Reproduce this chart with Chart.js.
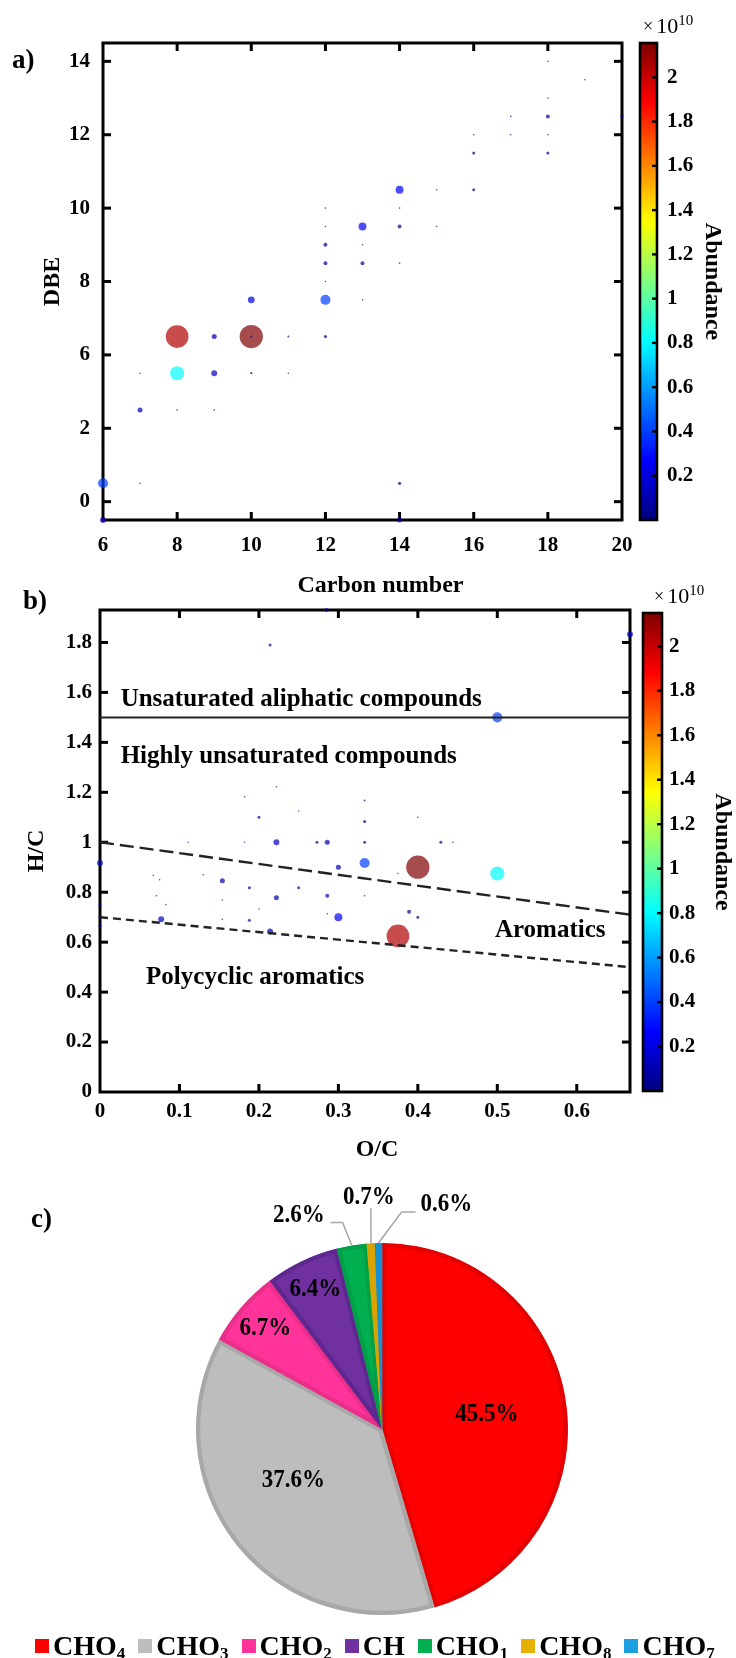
<!DOCTYPE html>
<html lang="en">
<head>
<meta charset="utf-8">
<title>DBE / van Krevelen / class distribution</title>
<script src="https://cdn.jsdelivr.net/npm/chart.js@4.4.1/dist/chart.umd.min.js"></script>
<style>
  html, body { margin: 0; padding: 0; background: #fff; }
  body { width: 736px; height: 1658px; position: relative; overflow: hidden;
         font-family: "Liberation Serif", "Times New Roman", serif; }
  canvas { position: absolute; }
  .tag { position: absolute; font-weight: bold; font-size: 27px; line-height: 30px; }
  #legendC { position: absolute; left: 35px; top: 1631px; display: flex; gap: 13px;
             font-weight: bold; font-size: 28px; line-height: 30px; white-space: nowrap; }
  #legendC .sq { display: inline-block; width: 14px; height: 14px; margin-right: 4px;
                 vertical-align: middle; position: relative; top: -3px; }
  #legendC sub { font-size: 17px; vertical-align: baseline; position: relative; top: 4px; }
</style>
</head>
<body>

<canvas id="chartA" width="660" height="600" style="left:0;top:0"></canvas>
<canvas id="cbarA" width="106" height="560" style="left:630px;top:0"></canvas>
<canvas id="chartB" width="660" height="620" style="left:0;top:560px"></canvas>
<canvas id="cbarB" width="106" height="560" style="left:633px;top:560px"></canvas>
<canvas id="pieC" width="736" height="488" style="left:0;top:1170px"></canvas>

<div class="tag" style="left:12px;top:44px">a)</div>
<div class="tag" style="left:23px;top:585px">b)</div>
<div class="tag" style="left:31px;top:1203px">c)</div>
<div id="legendC"></div>

<script>
// ---------------- data ----------------
// a) DBE vs carbon number (DBE given in axis units, see tick labels below)
var carbonA = [6,6,6,7,7,7,8,8,8,9,9,9,10,10,10,10,11,11,12,12,12,12,12,12,12,13,13,13,13,14,14,14,14,14,14,15,15,16,16,16,17,17,18,18,18,18,18,19,20];
var dbeA = [1.5,2.5,3.5, 2.5,4.5,5.5, 4.5,5.5,6.5, 4.5,5.5,6.5, 5.5,6.5,6.5,7.5, 5.5,6.5,
            6.5,7.5,8,8.5,9,9.5,10, 7.5,8.5,9,9.5, 1.5,2.5,8.5,9.5,10,10.5, 9.5,10.5,
            10.5,11.5,12, 12,12.5, 11.5,12,12.5,13,14, 13.5, 12.5];
var abundA = [0.14,0.40,0.01, 0.01,0.10,0.01, 0.01,0.80,2.05, 0.01,0.14,0.10, 0.02,2.15,0.02,0.19, 0.01,0.015,
              0.04,0.40,0.01,0.063,0.063,0.01,0.01, 0.01,0.063,0.01,0.25, 0.10,0.04,0.01,0.063,0.01,0.25, 0.01,0.01,
              0.036,0.036,0.01, 0.01,0.01, 0.036,0.01,0.063,0.01,0.01, 0.01, 0.036];
var xTicksA = [6,8,10,12,14,16,18,20];
var yTicksA = [2,4,6,8,10,12,14];
var yTickTextA = ['0','2','6','8','10','12','14'];

// b) van Krevelen
var ocB = [0.285,0.214,0.667,0.5,0.222,0.182,0.333,0.25,0.2,0.4,
           0.333,0.222,0.286,0.273,0.333,0.182,0.111,0.429,0.444,0,
           0.333,0.3,0.375,0.5,0.154,0.13,0.075,0.067,0.188,0.25,
           0.222,0.286,0.154,0.071,0.333,0,0.083,0.2,0.286,0.389,
           0.4,0.3,0.077,0,0,0.188,0.154,0.214,0.5,0.4,0.375];
var hcB = [1.93,1.79,1.833,1.5,1.222,1.182,1.167,1.125,1.1,1.1,
           1.083,1.0,1.0,1.0,1.0,1.0,1.0,1.0,1.0,0.917,
           0.917,0.9,0.875,0.875,0.846,0.87,0.85,0.867,0.818,0.818,
           0.778,0.786,0.769,0.786,0.786,0.75,0.75,0.733,0.714,0.722,
           0.7,0.7,0.692,0.7,0.667,0.688,0.692,0.643,0.625,0.9,0.625];
var abundB = [0.063,0.036,0.14,0.40,0.01,0.01,0.015,0.01,0.036,0.01,
              0.04,0.14,0.10,0.036,0.036,0.01,0.01,0.036,0.01,0.14,
              0.40,0.10,0.01,0.80,0.10,0.01,0.01,0.01,0.036,0.036,
              0.10,0.063,0.01,0.01,0.01,0.036,0.01,0.01,0.01,0.063,
              0.036,0.25,0.14,0.036,0.036,0.036,0.01,0.14,0.01,2.15,2.05];
var xTicksB = [0,0.1,0.2,0.3,0.4,0.5,0.6];
var yTicksB = [0,0.2,0.4,0.6,0.8,1,1.2,1.4,1.6,1.8];
// boundary lines (O/C -> H/C)
var ocLine = [0, 0.667];
var hcAliphatic = [1.5, 1.5];
var hcAromatic = [1.0, 0.71];
var hcCondensed = [0.7, 0.5];

// colorbar (x 10^10)
var cbTicks = [0.2,0.4,0.6,0.8,1,1.2,1.4,1.6,1.8,2];
var cbMaxA = 2.155;
var cbMaxB = 2.15;

// c) compound classes, %
var classLabels = ['CHO4','CHO3','CHO2','CH','CHO1','CHO8','CHO7'];
var classShare = [45.5, 37.6, 6.7, 6.4, 2.6, 0.7, 0.6];

// ---------------- styles ----------------
var SERIF = '"Liberation Serif", "Times New Roman", serif';
var tickFont = { family: SERIF, size: 21, weight: 'bold' };
var titleFont = { family: SERIF, size: 24, weight: 'bold' };
var pieFill = ['#ff0000','#bdbdbd','#ff3399','#7030a0','#00b050','#e6b000','#1ba1e2'];
var pieEdge = ['#e40000','#a8a8a8','#ea2f8a','#5e2890','#00a048','#d9a400','#1590d0'];
var EN = '\u2002';

function jet(t) {
  var c = function (v) { return Math.round(255 * Math.min(1, Math.max(0, v))); };
  return [c(1.5 - Math.abs(4 * t - 3)), c(1.5 - Math.abs(4 * t - 2)), c(1.5 - Math.abs(4 * t - 1))];
}
function fmt(v) { return String(+v.toFixed(1)); }

// frame + inward ticks (matlab look)
function framePlugin(o) {
  function draw(chart) {
    var ctx = chart.ctx, a = chart.chartArea, s = chart.scales;
    var L = o.len, w = o.tw;
    ctx.save();
    ctx.fillStyle = '#000';
    if (o.xTicks) s.x.ticks.forEach(function (t) {
      var p = s.x.getPixelForValue(t.value);
      if (p < a.left + 2 || p > a.right - 2) return;
      ctx.fillRect(p - w / 2, a.bottom - L, w, L);
      ctx.fillRect(p - w / 2, a.top, w, L);
    });
    s.y.ticks.forEach(function (t) {
      var p = s.y.getPixelForValue(t.value);
      if (p < a.top + 2 || p > a.bottom - 2) return;
      if (o.yLeft) ctx.fillRect(a.left, p - w / 2, L, w);
      ctx.fillRect(a.right - L, p - w / 2, L, w);
    });
    ctx.strokeStyle = '#000';
    ctx.lineWidth = o.width;
    ctx.strokeRect(a.left, a.top, a.right - a.left, a.bottom - a.top);
    ctx.restore();
  }
  return {
    id: 'frame',
    beforeDatasetsDraw: function (chart) { if (!o.over) draw(chart); },
    afterDatasetsDraw: function (chart) { if (o.over) draw(chart); }
  };
}

// "x 10^10" above colorbar
function expPlugin(dx) {
  return {
    id: 'expo',
    afterDraw: function (chart) {
      var ctx = chart.ctx, a = chart.chartArea;
      var x = a.left + dx, y = a.top - 10;
      ctx.save();
      ctx.fillStyle = '#000';
      ctx.textBaseline = 'alphabetic';
      ctx.font = '18px ' + SERIF;
      ctx.fillText('\u00d7', x, y - 1);
      x += ctx.measureText('\u00d7').width + 3;
      ctx.font = '22px ' + SERIF;
      ctx.fillText('10', x, y);
      x += ctx.measureText('10').width;
      ctx.font = '15px ' + SERIF;
      ctx.fillText('10', x, y - 8);
      ctx.restore();
    }
  };
}

// region names in the van Krevelen plot
var regionNotes = [
  { text: 'Unsaturated aliphatic compounds', oc: 0.026, hc: 1.544 },
  { text: 'Highly unsaturated compounds', oc: 0.026, hc: 1.316 },
  { text: 'Aromatics', oc: 0.497, hc: 0.62 },
  { text: 'Polycyclic aromatics', oc: 0.058, hc: 0.432 }
];
var notePlugin = {
  id: 'notes',
  afterDatasetsDraw: function (chart) {
    var ctx = chart.ctx, s = chart.scales;
    ctx.save();
    ctx.fillStyle = '#000';
    ctx.font = 'bold 25px ' + SERIF;
    ctx.textBaseline = 'alphabetic';
    regionNotes.forEach(function (n) {
      ctx.fillText(n.text, s.x.getPixelForValue(n.oc), s.y.getPixelForValue(n.hc));
    });
    ctx.restore();
  }
};

function bubbleSet(xs, ys, ab, cbMax) {
  return {
    type: 'scatter',
    data: xs.map(function (x, i) { return { x: x, y: ys[i], a: ab[i] }; }),
    pointRadius: function (c) { return c.raw ? Math.max(0.8, Math.sqrt(63 * c.raw.a)) : 3; },
    pointBackgroundColor: function (c) {
      if (!c.raw) return '#000';
      var j = jet(Math.min(1, c.raw.a / cbMax));
      return 'rgba(' + j[0] + ',' + j[1] + ',' + j[2] + ',0.7)';
    },
    pointBorderWidth: 0,
    showLine: false,
    clip: false
  };
}

function fixedTicks(list) {
  return function (s) { s.ticks = list.map(function (v) { return { value: v }; }); };
}

function scatterScales(cfg) {
  return {
    x: {
      type: 'linear', min: cfg.xmin, max: cfg.xmax,
      grid: { display: false, drawTicks: false }, border: { display: false },
      afterBuildTicks: fixedTicks(cfg.xticks),
      afterFit: function (s) { s.height = cfg.xh; },
      ticks: { font: tickFont, color: '#000', padding: cfg.xpad, maxRotation: 0, autoSkip: false,
               callback: function (v) { return fmt(v); } },
      title: { display: true, text: cfg.xtitle, font: titleFont, color: '#000', padding: { top: 0, bottom: cfg.xtpad } }
    },
    y: {
      type: 'linear', min: cfg.ymin, max: cfg.ymax,
      grid: { display: false, drawTicks: false }, border: { display: false },
      afterBuildTicks: fixedTicks(cfg.yticks),
      afterFit: function (s) { s.width = cfg.yw; },
      ticks: { font: tickFont, color: '#000', padding: cfg.ypad, autoSkip: false, callback: cfg.ylab },
      title: { display: true, text: cfg.ytitle, font: titleFont, color: '#000', padding: { top: cfg.ytpad, bottom: 0 } }
    }
  };
}

function colorbar(id, cbMax, top, bottom, left, right, lpad, tpad, dx) {
  new Chart(document.getElementById(id), {
    type: 'bar',
    data: {
      labels: [''],
      datasets: [{
        data: [cbMax],
        barPercentage: 1, categoryPercentage: 1, borderWidth: 0,
        backgroundColor: function (c) {
          var a = c.chart.chartArea;
          if (!a) return '#000';
          var g = c.chart.ctx.createLinearGradient(0, a.bottom, 0, a.top);
          for (var i = 0; i <= 32; i++) {
            var j = jet(i / 32);
            g.addColorStop(i / 32, 'rgb(' + j[0] + ',' + j[1] + ',' + j[2] + ')');
          }
          return g;
        }
      }]
    },
    options: {
      responsive: false, animation: false, events: [],
      layout: { padding: { top: top, bottom: bottom, left: left, right: 0 } },
      plugins: { legend: { display: false }, tooltip: { enabled: false } },
      scales: {
        x: { display: false },
        y: {
          position: 'right', min: 0, max: cbMax,
          grid: { display: false, drawTicks: false }, border: { display: false },
          afterBuildTicks: fixedTicks(cbTicks),
          afterFit: function (s) { s.width = right; },
          ticks: { font: tickFont, color: '#000', padding: lpad, autoSkip: false,
                   callback: function (v) { return fmt(v); } },
          title: { display: true, text: 'Abundance', font: titleFont, color: '#000', padding: { top: tpad, bottom: 0 } }
        }
      }
    },
    plugins: [framePlugin({ width: 2.6, tw: 2.4, len: 5, xTicks: false, yLeft: false, over: true }), expPlugin(dx)]
  });
}

// ---------------- a) ----------------
new Chart(document.getElementById('chartA'), {
  type: 'scatter',
  data: { datasets: [bubbleSet(carbonA, dbeA, abundA, cbMaxA)] },
  options: {
    responsive: false, animation: false, events: [],
    layout: { padding: { top: 43, right: 38, left: 0, bottom: 0 } },
    plugins: { legend: { display: false }, tooltip: { enabled: false } },
    scales: scatterScales({
      xmin: 6, xmax: 20, xticks: xTicksA, xh: 80, xpad: 13, xtitle: EN + EN + EN + 'Carbon number', xtpad: 0,
      ymin: 1.5, ymax: 14.5, yticks: yTicksA, yw: 103, ypad: 13, ytitle: 'DBE', ytpad: 38,
      ylab: function (v, i) { return yTickTextA[i]; }
    })
  },
  plugins: [framePlugin({ width: 3, tw: 3, len: 8, xTicks: true, yLeft: true })]
});
colorbar('cbarA', cbMaxA, 43, 40, 10, 79, 10, 9, 3);

// ---------------- b) ----------------
function lineSet(ys, dash, width) {
  return {
    type: 'line',
    data: ocLine.map(function (x, i) { return { x: x, y: ys[i] }; }),
    borderColor: '#222', borderWidth: width, borderDash: dash,
    pointRadius: 0, fill: false, showLine: true, tension: 0
  };
}
new Chart(document.getElementById('chartB'), {
  type: 'scatter',
  data: {
    datasets: [
      lineSet(hcAliphatic, [], 2),
      lineSet(hcAromatic, [14, 6], 2.4),
      lineSet(hcCondensed, [8, 5], 2.4),
      bubbleSet(ocB, hcB, abundB, cbMaxB)
    ]
  },
  options: {
    responsive: false, animation: false, events: [],
    layout: { padding: { top: 50, right: 30, left: 0, bottom: 0 } },
    plugins: { legend: { display: false }, tooltip: { enabled: false } },
    scales: scatterScales({
      xmin: 0, xmax: 0.667, xticks: xTicksB, xh: 88, xpad: 7, xtitle: EN + EN + 'O/C', xtpad: 16,
      ymin: 0, ymax: 1.93, yticks: yTicksB, yw: 100, ypad: 8, ytitle: 'H/C', ytpad: 22,
      ylab: function (v) { return fmt(v); }
    })
  },
  plugins: [framePlugin({ width: 3, tw: 3, len: 8, xTicks: true, yLeft: true }), notePlugin]
});
colorbar('cbarB', cbMaxB, 53, 29, 10, 77, 7, 2, 11);

// ---------------- c) ----------------
var outsideLabel = { 4: [-53, -30], 5: [-2, -46], 6: [68, -39] };
var insideNudge = { 1: [-6, -15] };
var pieLabelPlugin = {
  id: 'pieLabels',
  afterDatasetsDraw: function (chart) {
    var ctx = chart.ctx;
    var meta = chart.getDatasetMeta(0);
    var vals = chart.data.datasets[0].data;
    function label(txt, x, y) {
      ctx.save();
      ctx.translate(x, y);
      ctx.scale(1, 1.12);
      ctx.fillText(txt, 0, 0);
      ctx.restore();
    }
    ctx.save();
    ctx.font = 'bold 23px ' + SERIF;
    ctx.fillStyle = '#000';
    ctx.strokeStyle = '#a6a6a6';
    ctx.lineWidth = 1.5;
    ctx.textAlign = 'center';
    ctx.textBaseline = 'middle';
    meta.data.forEach(function (arc, i) {
      var mid = (arc.startAngle + arc.endAngle) / 2;
      var cx = Math.cos(mid), cy = Math.sin(mid), R = arc.outerRadius;
      var txt = vals[i].toFixed(1) + '%';
      var off = outsideLabel[i];
      if (!off) {
        var f = vals[i] >= 20 ? 0.57 : 0.83;
        var n = insideNudge[i] || [0, 0];
        label(txt, arc.x + cx * R * f + n[0], arc.y + cy * R * f + n[1]);
        return;
      }
      var ex = arc.x + cx * R, ey = arc.y + cy * R;
      var lx = ex + off[0], ly = ey + off[1];
      label(txt, lx, ly);
      var w = ctx.measureText(txt).width;
      ctx.beginPath();
      if (Math.abs(off[0]) < 20) {
        ctx.moveTo(lx + 2, ly + 11); ctx.lineTo(ex, ey);
      } else if (off[0] < 0) {
        ctx.moveTo(lx + w / 2 + 6, ly + 7); ctx.lineTo(lx + w / 2 + 18, ly + 7); ctx.lineTo(ex, ey);
      } else {
        ctx.moveTo(lx - w / 2 - 5, ly + 8); ctx.lineTo(lx - w / 2 - 19, ly + 8); ctx.lineTo(ex, ey);
      }
      ctx.stroke();
    });
    ctx.restore();
  }
};
new Chart(document.getElementById('pieC'), {
  type: 'pie',
  data: {
    labels: classLabels,
    datasets: [{
      data: classShare,
      backgroundColor: pieFill,
      borderColor: pieEdge,
      borderWidth: 4,
      borderAlign: 'inner',
      radius: 186
    }]
  },
  options: {
    responsive: false, animation: false, events: [],
    layout: { padding: { left: 28, right: 0, top: 30, bottom: 0 } },
    plugins: { legend: { display: false }, tooltip: { enabled: false } }
  },
  plugins: [pieLabelPlugin]
});

// legend with subscripts
var leg = document.getElementById('legendC');
classLabels.forEach(function (lab, i) {
  var m = lab.match(/^([A-Z]+)(\d*)$/);
  var item = document.createElement('span');
  item.innerHTML = '<span class="sq" style="background:' + pieFill[i] + '"></span>' + m[1] +
    (m[2] ? '<sub>' + m[2] + '</sub>' : '');
  leg.appendChild(item);
});
</script>
</body>
</html>
